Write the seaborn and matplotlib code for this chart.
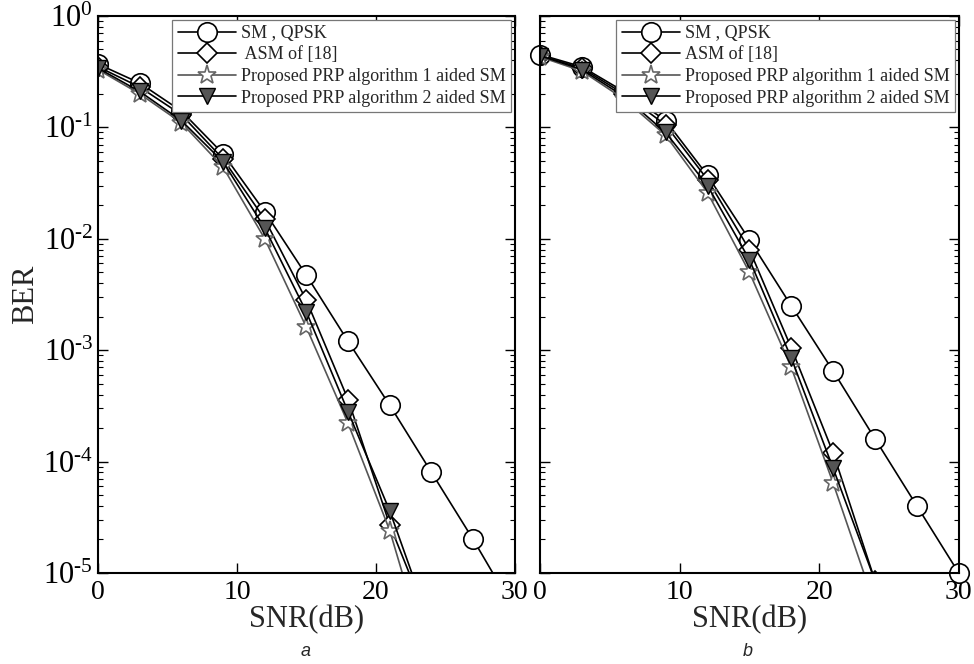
import matplotlib
matplotlib.use('Agg')
import math
import matplotlib.pyplot as plt
from matplotlib.ticker import FuncFormatter
import seaborn as sns

# SNR points (dB)
snr = [0, 3, 6, 9, 12, 15, 18, 21, 24, 27, 30]

labels_a = ['SM , QPSK', ' ASM of [18]', 'Proposed PRP algorithm 1 aided SM',
            'Proposed PRP algorithm 2 aided SM']
labels_b = ['SM , QPSK', 'ASM of [18]', 'Proposed PRP algorithm 1 aided SM',
            'Proposed PRP algorithm 2 aided SM']

# panel a
sm_a = [0.37, 0.25, 0.14, 0.058, 0.0175, 4.7e-3, 1.2e-3, 3.2e-4, 8e-5, 2e-5, 4.6e-6]
asm_a = [0.35, 0.23, 0.13, 0.052, 0.015, 2.8e-3, 3.6e-4, 2.7e-5, 3.2e-6]
prp1_a = [0.33, 0.20, 0.11, 0.044, 0.010, 1.6e-3, 2.2e-4, 2.4e-5, 1.3e-6]
prp2_a = [0.34, 0.21, 0.115, 0.049, 0.0125, 2.2e-3, 2.8e-4, 3.6e-5, 3.2e-6]

# panel b
sm_b = [0.45, 0.35, 0.21, 0.115, 0.037, 9.8e-3, 2.5e-3, 6.5e-4, 1.6e-4, 4e-5, 1e-5]
asm_b = [0.44, 0.34, 0.20, 0.105, 0.034, 8e-3, 1.05e-3, 1.2e-4, 8.5e-6]
prp1_b = [0.43, 0.32, 0.18, 0.085, 0.026, 5e-3, 7e-4, 6.4e-5, 5.1e-6]
prp2_b = [0.44, 0.33, 0.19, 0.09, 0.030, 6.5e-3, 8.5e-4, 8.7e-5, 8.5e-6]

sns.set_style('ticks')
plt.rcParams['font.family'] = ['Liberation Serif', 'DejaVu Serif']
plt.rcParams['mathtext.fontset'] = 'custom'
plt.rcParams['mathtext.rm'] = 'Liberation Serif'
plt.rcParams['mathtext.it'] = 'Liberation Serif:italic'
plt.rcParams['axes.unicode_minus'] = False

fig = plt.figure(figsize=(9.74, 6.64), dpi=100)
ax_a = fig.add_axes([0.1006, 0.137, 0.428, 0.839])
ax_b = fig.add_axes([0.5544, 0.137, 0.430, 0.839])

styles = [
    dict(marker='o', markersize=14, markerfacecolor='white', markeredgecolor='black',
         color='black', linewidth=1.2, markeredgewidth=1.2),
    dict(marker='D', markersize=10, markerfacecolor='white', markeredgecolor='black',
         color='black', linewidth=1.2, markeredgewidth=1.2),
    dict(marker='*', markersize=14, markerfacecolor='white', markeredgecolor='#666666',
         color='#555555', linewidth=1.2, markeredgewidth=1.2),
    dict(marker='v', markersize=12, markerfacecolor='#555555', markeredgecolor='black',
         color='black', linewidth=1.2, markeredgewidth=1.0),
]


def pow_label(v, pos):
    e = int(round(math.log10(v)))
    s = str(e).replace('-', '\u2010')
    return '$\\mathregular{10^{%s}}$' % s


def draw(ax, series, labels, last_noclip=False):
    for i, (vals, lab, st) in enumerate(zip(series, labels, styles)):
        line_ax = sns.lineplot(x=snr[:len(vals)], y=vals, ax=ax, label=lab, **st)
        if i == 0 and last_noclip:
            line_ax.lines[-1].set_clip_on(False)
    ax.set_yscale('log')
    ax.set_xlim(0, 30)
    ax.set_ylim(1e-5, 1)
    ax.set_xticks([0, 10, 20, 30])
    ax.yaxis.set_major_formatter(FuncFormatter(pow_label))
    ax.tick_params(axis='both', which='both', direction='in', top=True, right=True,
                   colors='black')
    ax.tick_params(axis='both', which='major', length=7, width=1.0)
    ax.tick_params(axis='y', which='minor', length=3.5, width=0.8)
    ax.tick_params(axis='x', labelsize=20, pad=5)
    ax.tick_params(axis='y', labelsize=22)
    for sp in ax.spines.values():
        sp.set_linewidth(1.5)
        sp.set_color('black')
    ax.set_xlabel('SNR(dB)', fontsize=22, labelpad=0)
    leg = ax.legend(loc='upper right', fontsize=13, handlelength=3.2, labelspacing=0.25,
                    borderaxespad=0.2, borderpad=0.3, handletextpad=0.3,
                    fancybox=False, framealpha=1, edgecolor='#777777')
    leg.get_frame().set_linewidth(0.9)


draw(ax_a, [sm_a, asm_a, prp1_a, prp2_a], labels_a)
draw(ax_b, [sm_b, asm_b, prp1_b, prp2_b], labels_b, last_noclip=True)

ax_a.set_ylabel('BER', fontsize=22)
ax_a.yaxis.set_label_coords(-0.14, 0.5)
ax_b.set_ylabel('')
ax_b.tick_params(axis='y', which='both', labelleft=False)

fig.text(0.314, 0.012, 'a', fontsize=13, style='italic', family='Liberation Sans', ha='center')
fig.text(0.768, 0.012, 'b', fontsize=13, style='italic', family='Liberation Sans', ha='center')

fig.savefig('out.png', dpi=100)
